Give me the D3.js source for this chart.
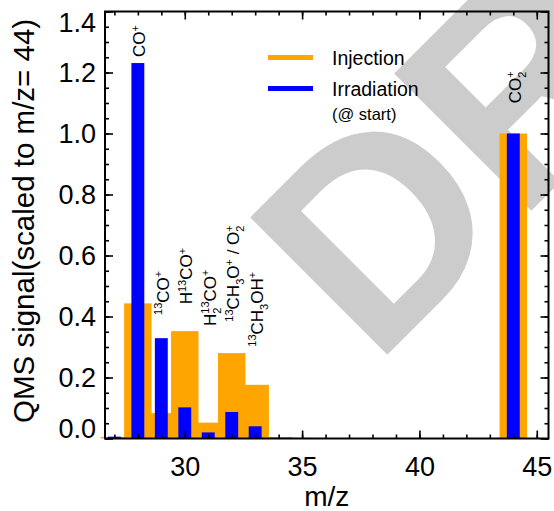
<!DOCTYPE html>
<html>
<head>
<meta charset="utf-8">
<script src="https://cdn.jsdelivr.net/npm/d3@7"></script>
<style>
  body { margin: 0; background: #fff; }
  svg { display: block; font-family: "Liberation Sans", Arial, sans-serif; }
</style>
</head>
<body>
<div id="chart"></div>
<script>
// values
const mz = [27, 28, 29, 30, 31, 32, 33, 34, 35, 44];
const injection = [0.005, 0.443, 0.083, 0.352, 0.052, 0.280, 0.176, 0.005, 0.002, 1.0];
const irradiation = [0.006, 1.231, 0.329, 0.102, 0.020, 0.087, 0.040, 0.0, 0.0, 1.0];

// ion labels (^{..} superscript, _{..} subscript)
const ionMz = [28, 29, 30, 31, 32, 33, 44];
const ionLabels = ["CO^{+}", "^{13}CO^{+}", "H^{13}CO^{+}", "H_{2}^{13}CO^{+}",
                   "^{13}CH_{3}O^{+} / O_{2}^{+}", "^{13}CH_{3}OH^{+}", "CO_{2}^{+}"];
const ionLabelY = [1.251, 0.405, 0.44, 0.369, 0.383, 0.301, 1.099];

const xTicks = [30, 35, 40, 45];
const yTicks = [0, 0.2, 0.4, 0.6, 0.8, 1.0, 1.2, 1.4];
const seriesNames = ["Injection", "Irradiation"];
const seriesColors = ["#FFA500", "#0000FF"];

const width = 554, height = 511;
const mLeft = 105, mRight = 548.5, mTop = 11.5, mBottom = 438.5;

const svg = d3.select("#chart").append("svg")
    .attr("width", width).attr("height", height);

// watermark behind everything
svg.append("text")
    .attr("transform", "translate(374,368) rotate(-45)")
    .style("font-family", "Liberation Sans, Arial, sans-serif")
    .style("font-weight", "bold")
    .style("font-size", "282px")
    .attr("fill", "#cccccc")
    .text("DRAFT");

const x = d3.scaleLinear().domain([26.6, 45.5]).range([mLeft, mRight]);
const y = d3.scaleLinear().domain([0, 1.4]).range([mBottom, mTop]);
const unit = x(1) - x(0);

const data = mz.map((m, i) => ({m: m, inj: injection[i], irr: irradiation[i]}));

// injection bars (wide)
svg.append("g").selectAll("rect")
    .data(data)
    .enter()
    .append("rect")
    .attr("x", d => x(d.m) - unit * 0.585)
    .attr("width", unit * 1.17)
    .attr("y", d => y(d.inj))
    .attr("height", d => y(0) - y(d.inj))
    .attr("fill", seriesColors[0]);

// irradiation bars (narrow, on top)
svg.append("g").selectAll("rect")
    .data(data)
    .enter()
    .append("rect")
    .attr("x", d => x(d.m) - unit * 0.275)
    .attr("width", unit * 0.55)
    .attr("y", d => y(d.irr))
    .attr("height", d => y(0) - y(d.irr))
    .attr("fill", seriesColors[1]);

// axes: major + minor ticks, mirrored on top and right
const fontTick = "27px";
function styleAxis(g) {
    g.select(".domain").remove();
    g.selectAll(".tick line").attr("stroke", "#000").attr("stroke-width", 1.6);
    g.selectAll("text").style("font-size", fontTick).attr("fill", "#000");
}
const xMinor = d3.range(27, 46);
const yMinor = d3.range(0, 29).map(i => +(i * 0.05).toFixed(2));

svg.append("g").attr("transform", `translate(0,${mBottom})`)
    .call(d3.axisBottom(x).tickValues(xTicks).tickSize(-8).tickPadding(18).tickFormat(d3.format("d")))
    .call(styleAxis);
svg.append("g").attr("transform", `translate(0,${mBottom})`)
    .call(d3.axisBottom(x).tickValues(xMinor).tickSize(-4).tickFormat(""))
    .call(styleAxis);
svg.append("g").attr("transform", `translate(0,${mTop})`)
    .call(d3.axisTop(x).tickValues(xTicks).tickSize(-8).tickFormat(""))
    .call(styleAxis);
svg.append("g").attr("transform", `translate(0,${mTop})`)
    .call(d3.axisTop(x).tickValues(xMinor).tickSize(-4).tickFormat(""))
    .call(styleAxis);

const yAxis = svg.append("g").attr("transform", `translate(${mLeft},0)`)
    .call(d3.axisLeft(y).tickValues(yTicks).tickSize(-8).tickPadding(9).tickFormat(d3.format(".1f")))
    .call(styleAxis);
// keep end labels inside the frame
yAxis.selectAll(".tick text")
    .filter(d => d === 1.4).attr("dy", "0.75em");
yAxis.selectAll(".tick text")
    .filter(d => d === 0).attr("dy", "-0.02em");
svg.append("g").attr("transform", `translate(${mLeft},0)`)
    .call(d3.axisLeft(y).tickValues(yMinor).tickSize(-4).tickFormat(""))
    .call(styleAxis);
svg.append("g").attr("transform", `translate(${mRight},0)`)
    .call(d3.axisRight(y).tickValues(yTicks).tickSize(-8).tickFormat(""))
    .call(styleAxis);
svg.append("g").attr("transform", `translate(${mRight},0)`)
    .call(d3.axisRight(y).tickValues(yMinor).tickSize(-4).tickFormat(""))
    .call(styleAxis);

// frame
svg.append("rect")
    .attr("x", mLeft).attr("y", mTop)
    .attr("width", mRight - mLeft).attr("height", mBottom - mTop)
    .attr("fill", "none").attr("stroke", "#000").attr("stroke-width", 2);

// axis titles
svg.append("text")
    .attr("x", (mLeft + mRight) / 2).attr("y", 506)
    .attr("text-anchor", "middle")
    .style("font-size", "28px")
    .text("m/z");
svg.append("text")
    .attr("transform", "translate(33.5,423) rotate(-90)")
    .attr("text-anchor", "start")
    .style("font-size", "29.5px")
    .text("QMS signal(scaled to m/z= 44)");

// ion labels with super/subscripts, rotated
function drawLabel(g, str) {
    const parts = [];
    str.replace(/([_^])\{([^}]*)\}|([^_^]+)/g, (all, mark, inner, plain) => {
        if (plain) parts.push({t: plain, k: "n"});
        else parts.push({t: inner, k: mark === "^" ? "u" : "d"});
        return all;
    });
    let cx = 0, prev = null;
    parts.forEach(p => {
        const small = p.k !== "n";
        let startX = cx;
        // a superscript right after a subscript sits above it (stacked)
        if (prev && prev.k !== "n" && small && prev.k !== p.k) startX = prev.x;
        const t = g.append("text")
            .attr("x", startX)
            .attr("y", p.k === "u" ? -6.5 : (p.k === "d" ? 5 : 0))
            .style("font-size", small ? "11px" : "17px")
            .style("white-space", "pre")
            .text(p.t);
        const w = t.node().getComputedTextLength();
        p.x = startX;
        cx = Math.max(cx, startX + w);
        prev = p;
    });
}
ionMz.forEach((m, i) => {
    const g = svg.append("g")
        .attr("transform", `translate(${x(m) + 7.5},${y(ionLabelY[i])}) rotate(-90)`);
    drawLabel(g, ionLabels[i]);
});

// legend
const legendY = [57.5, 88.5];
seriesNames.forEach((name, i) => {
    svg.append("line")
        .attr("x1", 268).attr("x2", 313)
        .attr("y1", legendY[i]).attr("y2", legendY[i])
        .attr("stroke", seriesColors[i]).attr("stroke-width", 5);
    svg.append("text")
        .attr("x", 332).attr("y", legendY[i] + 7.3)
        .style("font-size", "19.5px")
        .text(name);
});
svg.append("text")
    .attr("x", 332).attr("y", 119.5)
    .style("font-size", "16.5px")
    .text("(@ start)");
</script>
</body>
</html>
